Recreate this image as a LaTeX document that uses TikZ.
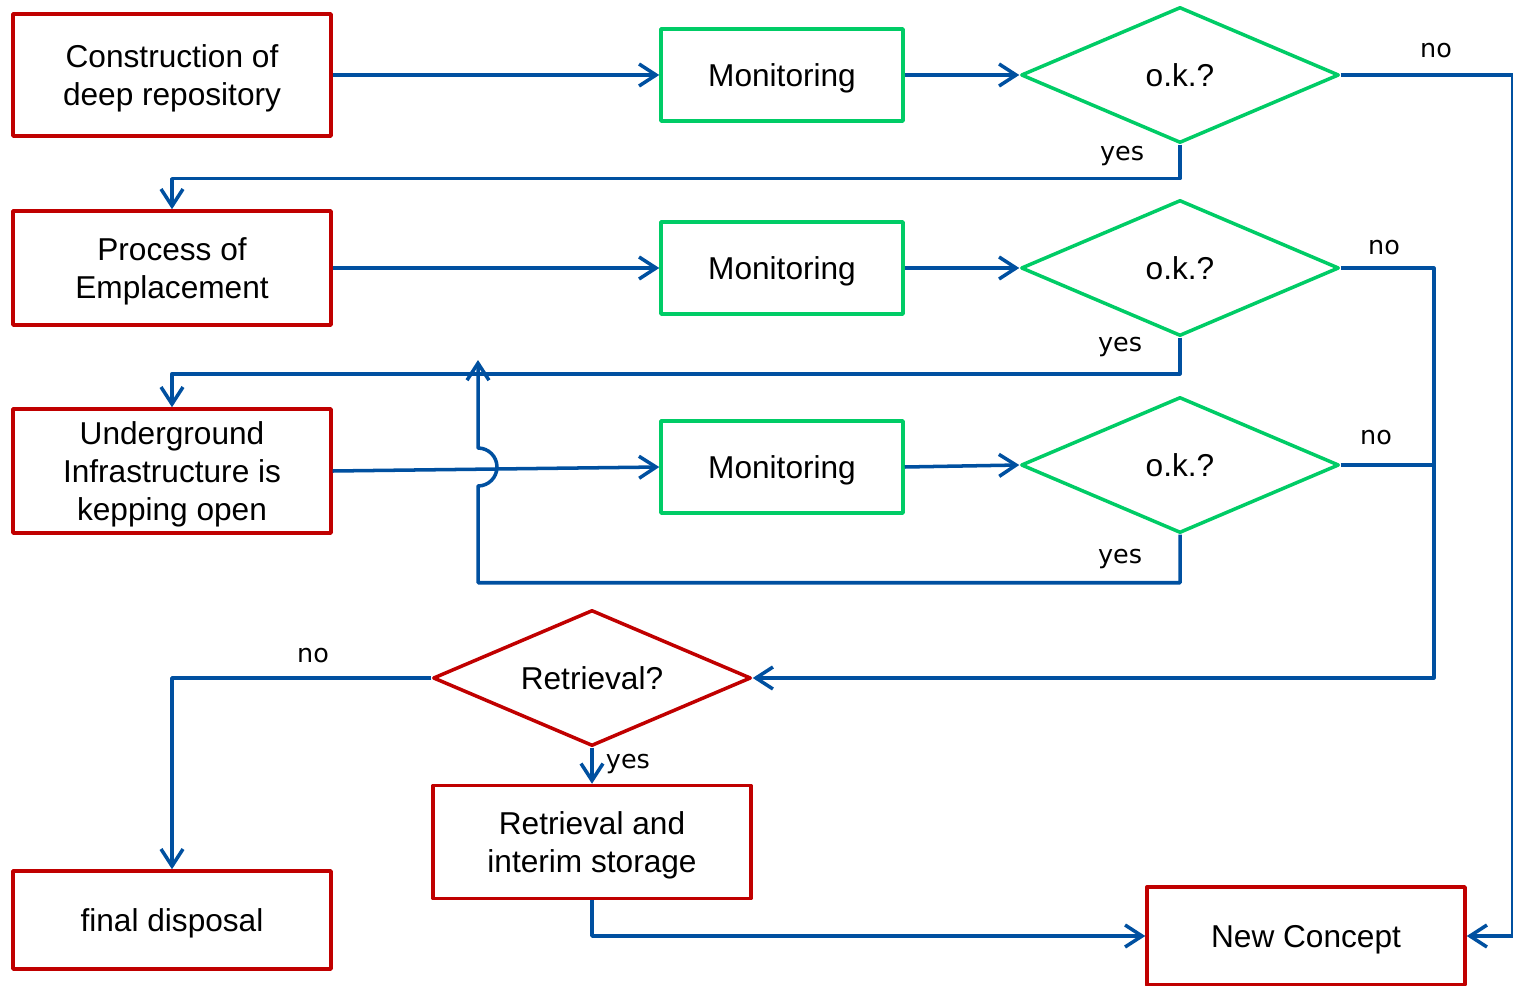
\documentclass[tikz,border=0pt]{standalone}
\usepackage{fontspec}
\setmainfont{Liberation Sans}
\newfontfamily\labfont{DejaVu Sans}
\usetikzlibrary{arrows.meta,shapes.geometric}
\definecolor{stagered}{RGB}{192,0,0}
\definecolor{mongreen}{RGB}{0,204,102}
\definecolor{flowblue}{RGB}{0,80,160}
\tikzset{stage/.style={draw=stagered,line width=2pt,minimum width=6.36cm,align=center,inner sep=0pt,text depth=0pt,font=\fontsize{18}{21.6}\selectfont}}
\tikzset{monbox/.style={draw=mongreen,line width=2pt,minimum width=4.84cm,minimum height=1.84cm,inner sep=0pt,text depth=0pt,font=\fontsize{18}{21.6}\selectfont}}
\tikzset{check/.style={diamond,aspect=2.34,draw=mongreen,line width=2pt,minimum width=6.36cm,minimum height=2.72cm,inner sep=0pt,text depth=0pt,font=\fontsize{18}{21.6}\selectfont}}
\tikzset{flow/.style={draw=flowblue,line width=2pt,-{Straight Barb[length=0.34cm,width=0.44cm]}}}
\tikzset{l/.style={font=\labfont\fontsize{14.5}{14.5}\selectfont,anchor=base,inner sep=0pt}}

\begin{document}
\begin{tikzpicture}[x=0.02cm,y=-0.02cm,line join=round]
  \useasboundingbox (0,0) rectangle (1513,986);
  % stages
  \node[stage,minimum height=2.44cm] (constr) at (172,75) {Construction of\\deep repository};
  \node[stage,minimum height=2.28cm] (emplace) at (172,268) {Process of\\Emplacement};
  \node[stage,minimum height=2.48cm] (under) at (172,471) {Underground\\Infrastructure is\\kepping open};
  \node[stage,minimum height=1.96cm] (final) at (172,920) {final disposal};
  \node[stage,minimum height=2.26cm] (store) at (592,842) {Retrieval and\\interim storage};
  \node[stage,minimum height=1.96cm] (newc) at (1306,936) {New Concept};
  % monitoring and checks
  \node[monbox] (mon1) at (782,75) {Monitoring};
  \node[monbox] (mon2) at (782,268) {Monitoring};
  \node[monbox] (mon3) at (782,467) {Monitoring};
  \node[check] (ok1) at (1180,75) {o.k.?};
  \node[check] (ok2) at (1180,268) {o.k.?};
  \node[check] (ok3) at (1180,465) {o.k.?};
  \node[check,draw=stagered] (retr) at (592,678) {Retrieval?};
  \coordinate (hop) at (478,486);
  % connectors
  \draw[flow] (constr.east) -- (mon1.west);
  \draw[flow] (mon1.east) -- (ok1.west);
  \draw[flow] (ok1.east) -- ++(172,0) |- (newc.east);
  \draw[flow] (ok1.south) -- ++(0,34) -| (emplace.north);
  \draw[flow] (emplace.east) -- (mon2.west);
  \draw[flow] (mon2.east) -- (ok2.west);
  \draw[flow] (ok2.east) -- ++(93,0) |- (retr.east);
  \draw[flow] (ok2.south) -- ++(0,36) -| (under.north);
  \draw[flow] (under.east) -- (mon3.west);
  \draw[flow] (mon3.east) -- (ok3.west);
  \draw[flow,-] (ok3.east) -- ++(93,0);
  \draw[flow] (ok3.south) -- ++(0,48) -| (hop)
    arc[start angle=-90,end angle=90,radius=0.38cm] -- ++(0,-88);
  \draw[flow] (retr.west) -| (final.north);
  \draw[flow] (retr.south) -- (store.north);
  \draw[flow] (store.south) |- (newc.west);
  % yes / no
  \node[l] (no1) at (1436,58) {no};
  \node[l] (yes1) at (1122,161) {yes};
  \node[l] (no2) at (1384,255) {no};
  \node[l] (yes2) at (1120,351) {yes};
  \node[l] (no3) at (1376,444) {no};
  \node[l] (yes3) at (1120,563) {yes};
  \node[l] (no4) at (313,662) {no};
  \node[l] (yes4) at (628,768) {yes};
\end{tikzpicture}
\end{document}
